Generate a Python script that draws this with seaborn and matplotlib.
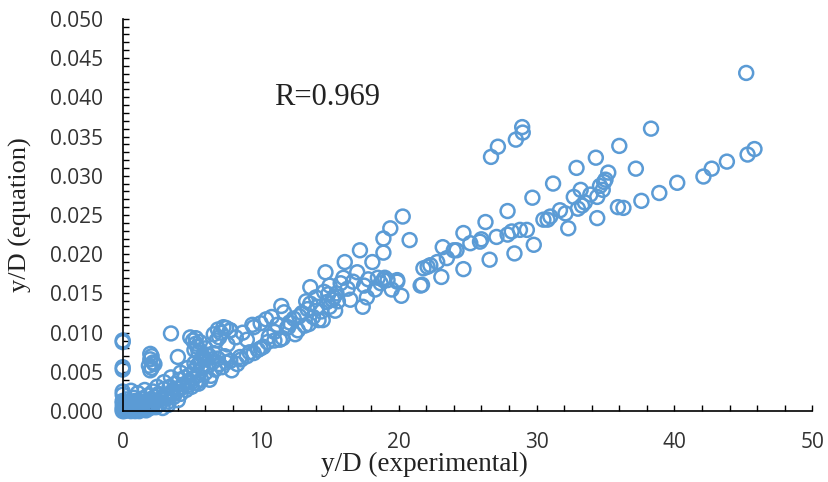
# y/D equation vs experimental scatter
import numpy as np
import pandas as pd
import seaborn as sns
import matplotlib.pyplot as plt
from matplotlib.ticker import MultipleLocator, FormatStrFormatter

# values (x = y/D experimental, y = y/D equation)
# near the origin
x_origin = [0.0, 0.0, 0.0, 0.0, 0.0, 0.0, 0.0, 0.0, 0.0, 0.1, 0.2, 0.3, 0.4, 0.5, 0.6, 0.7,
            0.8, 0.9, 1.0, 1.0, 1.2, 1.3, 1.4, 1.5, 1.6, 1.7, 1.8, 1.9, 2.0, 0.3, 0.6, 1.1,
            1.6, 0.2, 0.5, 0.8, 0.1, 0.2, 0.4, 0.5, 0.7, 0.9, 1.1, 1.3, 1.5, 1.8, 2.0, 0.0,
            0.0, 0.3, 1.2, 1.7, 2.2, 0.6, 0.9, 1.4]
y_origin = [0.0090, 0.0088, 0.0056, 0.0053, 0.0025, 0.0021, 0.0010, 0.0005, 0.0002, 0.0000,
            0.0003, 0.0001, 0.0006, 0.0002, 0.0004, 0.0009, 0.0003, 0.0007, 0.0012, 0.0002,
            0.0005, 0.0010, 0.0016, 0.0008, 0.0003, 0.0013, 0.0020, 0.0009, 0.0015, 0.0015,
            0.0026, 0.0023, 0.0027, 0.0008, 0.0011, 0.0017, 0.0004, 0.0001, 0.0002, 0.0007,
            0.0002, 0.0000, 0.0006, 0.0002, 0.0012, 0.0006, 0.0004, 0.0000, 0.0013, 0.0010,
            0.0000, 0.0001, 0.0007, 0.0000, 0.0013, 0.0004]

# x from 2 to 12
x_low = [2.1, 2.3, 2.5, 2.6, 2.8, 3.0, 3.1, 3.3, 3.4, 3.5, 3.7, 3.8, 4.0, 4.1, 4.2, 4.4,
         4.5, 4.6, 4.8, 4.9, 5.0, 5.1, 5.2, 5.3, 5.4, 5.5, 5.6, 5.7, 5.8, 5.9, 6.0, 6.1,
         6.2, 6.4, 6.5, 6.7, 6.9, 7.2, 7.5, 7.9, 8.3, 8.6, 9.0, 9.5, 9.8, 10.2, 10.5, 11.0,
         11.6, 2.4, 2.7, 3.2, 3.6, 3.9, 4.3, 4.7, 5.0, 5.5, 6.3, 2.9, 3.3, 4.0, 2.2, 2.5,
         3.0, 3.5, 4.2, 4.7, 5.2, 5.7, 6.3, 6.6, 7.0, 7.4, 7.8,
         2.0, 2.1, 2.0, 2.2, 1.9, 2.1, 2.3, 2.0, 3.5, 4.0, 4.9,
         5.1, 5.3, 5.4, 5.2, 5.5, 5.6, 5.8, 5.3, 6.0,
         6.6, 6.9, 7.1, 7.3, 7.5, 7.0, 6.8, 7.8, 8.2, 7.6]
y_low = [0.0010, 0.0018, 0.0013, 0.0022, 0.0016, 0.0028, 0.0020, 0.0012, 0.0031, 0.0024,
         0.0018, 0.0035, 0.0029, 0.0040, 0.0022, 0.0034, 0.0043, 0.0027, 0.0038, 0.0047,
         0.0031, 0.0042, 0.0052, 0.0036, 0.0058, 0.0046, 0.0063, 0.0040, 0.0055, 0.0068,
         0.0049, 0.0072, 0.0058, 0.0045, 0.0062, 0.0053, 0.0067, 0.0056, 0.0062, 0.0052,
         0.0060, 0.0066, 0.0070, 0.0074, 0.0078, 0.0082, 0.0088, 0.0090, 0.0093, 0.0005,
         0.0009, 0.0016, 0.0021, 0.0025, 0.0030, 0.0033, 0.0037, 0.0035, 0.0040, 0.0004,
         0.0008, 0.0014, 0.0025, 0.0031, 0.0037, 0.0043, 0.0049, 0.0055, 0.0061, 0.0066,
         0.0070, 0.0074, 0.0060, 0.0070, 0.0064,
         0.0073, 0.0070, 0.0066, 0.0062, 0.0058, 0.0055, 0.0060, 0.0052, 0.0099, 0.0069,
         0.0094, 0.0090, 0.0086, 0.0082, 0.0078, 0.0075, 0.0088, 0.0070, 0.0093, 0.0080,
         0.0098, 0.0104, 0.0100, 0.0107, 0.0106, 0.0094, 0.0090, 0.0103, 0.0094, 0.0085]

# x from 8 to 16
x_mid = [9.0, 9.5, 10.0, 10.4, 10.8, 11.2, 11.5, 11.9, 12.1, 12.4, 12.7, 13.0, 13.2, 13.4,
         13.6, 13.8, 14.0, 14.2, 14.4, 14.6, 14.8, 15.0, 15.2, 10.6, 11.0, 12.5, 13.5, 14.5,
         15.4, 9.4, 7.8, 8.7, 8.5, 9.2, 10.0, 11.4, 12.0, 12.8, 13.3, 14.1, 14.9, 15.6, 11.7]
y_mid = [0.0091, 0.0107, 0.0112, 0.0117, 0.0120, 0.0110, 0.0134, 0.0106, 0.0113, 0.0118,
         0.0103, 0.0125, 0.0109, 0.0130, 0.0137, 0.0120, 0.0145, 0.0116, 0.0127, 0.0152,
         0.0139, 0.0133, 0.0142, 0.0095, 0.0101, 0.0098, 0.0111, 0.0116, 0.0128, 0.0110,
         0.0103, 0.0100, 0.0069, 0.0075, 0.0080, 0.0091, 0.0107, 0.0121, 0.0140, 0.0133,
         0.0149, 0.0140, 0.0126]

# x from 15 to 22
x_upper = [15.5, 15.8, 16.1, 16.3, 16.5, 16.7, 17.0, 17.2, 17.4, 17.5, 17.8, 18.1, 18.3,
           18.5, 18.7, 18.9, 18.9, 19.2, 19.4, 19.5, 19.9, 20.3, 20.2, 20.8, 21.6, 21.8,
           16.0, 17.7, 19.0, 15.0, 15.3, 14.7, 13.6, 18.9, 19.9]
y_upper = [0.0150, 0.0163, 0.0190, 0.0156, 0.0142, 0.0165, 0.0177, 0.0205, 0.0133, 0.0160,
           0.0168, 0.0190, 0.0155, 0.0170, 0.0163, 0.0220, 0.0202, 0.0167, 0.0233, 0.0155,
           0.0165, 0.0248, 0.0147, 0.0218, 0.0160, 0.0182, 0.0170, 0.0145, 0.0170, 0.0160,
           0.0145, 0.0177, 0.0158, 0.0167, 0.0167]

# x from 21 to 36 (main band and points around it)
x_band = [22.1, 24.0, 25.2, 27.1, 29.3, 30.8, 31.7, 32.7, 33.2, 35.0, 34.8, 34.4, 22.3,
          23.5, 24.2, 25.9, 27.9, 28.8, 30.5, 31.0, 23.2, 24.7, 26.3, 27.9, 29.7, 31.2,
          32.3, 34.4, 35.9, 29.8, 28.4, 26.6, 24.7, 23.1, 21.7, 33.5, 33.9, 33.3, 34.6,
          34.9, 35.2, 33.0, 32.1, 22.8, 26.0, 28.2]
y_band = [0.0184, 0.0205, 0.0214, 0.0222, 0.0231, 0.0244, 0.0256, 0.0273, 0.0282, 0.0295,
          0.0282, 0.0273, 0.0186, 0.0195, 0.0205, 0.0216, 0.0225, 0.0231, 0.0244, 0.0248,
          0.0209, 0.0227, 0.0241, 0.0255, 0.0272, 0.0290, 0.0233, 0.0246, 0.0260, 0.0212,
          0.0201, 0.0193, 0.0181, 0.0171, 0.0161, 0.0266, 0.0276, 0.0262, 0.0287, 0.0292,
          0.0304, 0.0258, 0.0252, 0.0190, 0.0219, 0.0229]

# right hand part, x above 26
x_right = [45.2, 38.3, 36.0, 34.3, 37.2, 32.9, 28.96, 29.0, 28.5, 27.2, 26.7, 36.3, 37.6,
           38.9, 40.2, 42.1, 42.7, 43.8, 45.3, 45.8]
y_right = [0.0431, 0.0360, 0.0338, 0.0323, 0.0309, 0.0310, 0.0362, 0.0355, 0.0346, 0.0337,
           0.0324, 0.0259, 0.0268, 0.0278, 0.0291, 0.0299, 0.0309, 0.0318, 0.0327, 0.0334]

df = pd.DataFrame({
    "exp": x_origin + x_low + x_mid + x_upper + x_band + x_right,
    "eq": y_origin + y_low + y_mid + y_upper + y_band + y_right,
})

sns.set_style("ticks")
blue = "#5B9BD5"

fig = plt.figure(figsize=(8.29, 4.82), dpi=100)
ax = fig.add_axes([0.148, 0.147, 0.832, 0.814])

sns.scatterplot(data=df, x="exp", y="eq", ax=ax, marker="o", s=100,
                facecolor="none", edgecolor=blue, linewidth=1.8, clip_on=False)

ax.set_xlim(0, 50)
ax.set_ylim(0, 0.05)
ax.xaxis.set_major_locator(MultipleLocator(10))
ax.xaxis.set_minor_locator(MultipleLocator(2))
ax.yaxis.set_major_locator(MultipleLocator(0.005))
ax.yaxis.set_minor_locator(MultipleLocator(0.001))
ax.yaxis.set_major_formatter(FormatStrFormatter("%.3f"))

ax.tick_params(which="both", direction="in", length=4, width=1, color="black",
               labelsize=15, labelcolor="#333333")
ax.tick_params(axis="y", pad=14)
ax.tick_params(axis="x", pad=15)
for lab in ax.get_xticklabels() + ax.get_yticklabels():
    lab.set_family("Open Sans")

sns.despine(ax=ax)
for sp in ["left", "bottom"]:
    ax.spines[sp].set_linewidth(1.2)
    ax.spines[sp].set_color("black")

ax.set_xlabel("y/D (experimental)", family="Liberation Serif", fontsize=19.5, color="#222222")
ax.set_ylabel("y/D (equation)", family="Liberation Serif", fontsize=19, color="#222222")
ax.xaxis.set_label_coords(0.437, -0.105)
ax.yaxis.set_label_coords(-0.131, 0.5)

ax.text(11.0, 0.0390, "R=0.969", family="Liberation Serif", fontsize=22,
        va="baseline", ha="left", color="#222222")

plt.savefig("out.png", dpi=100)
